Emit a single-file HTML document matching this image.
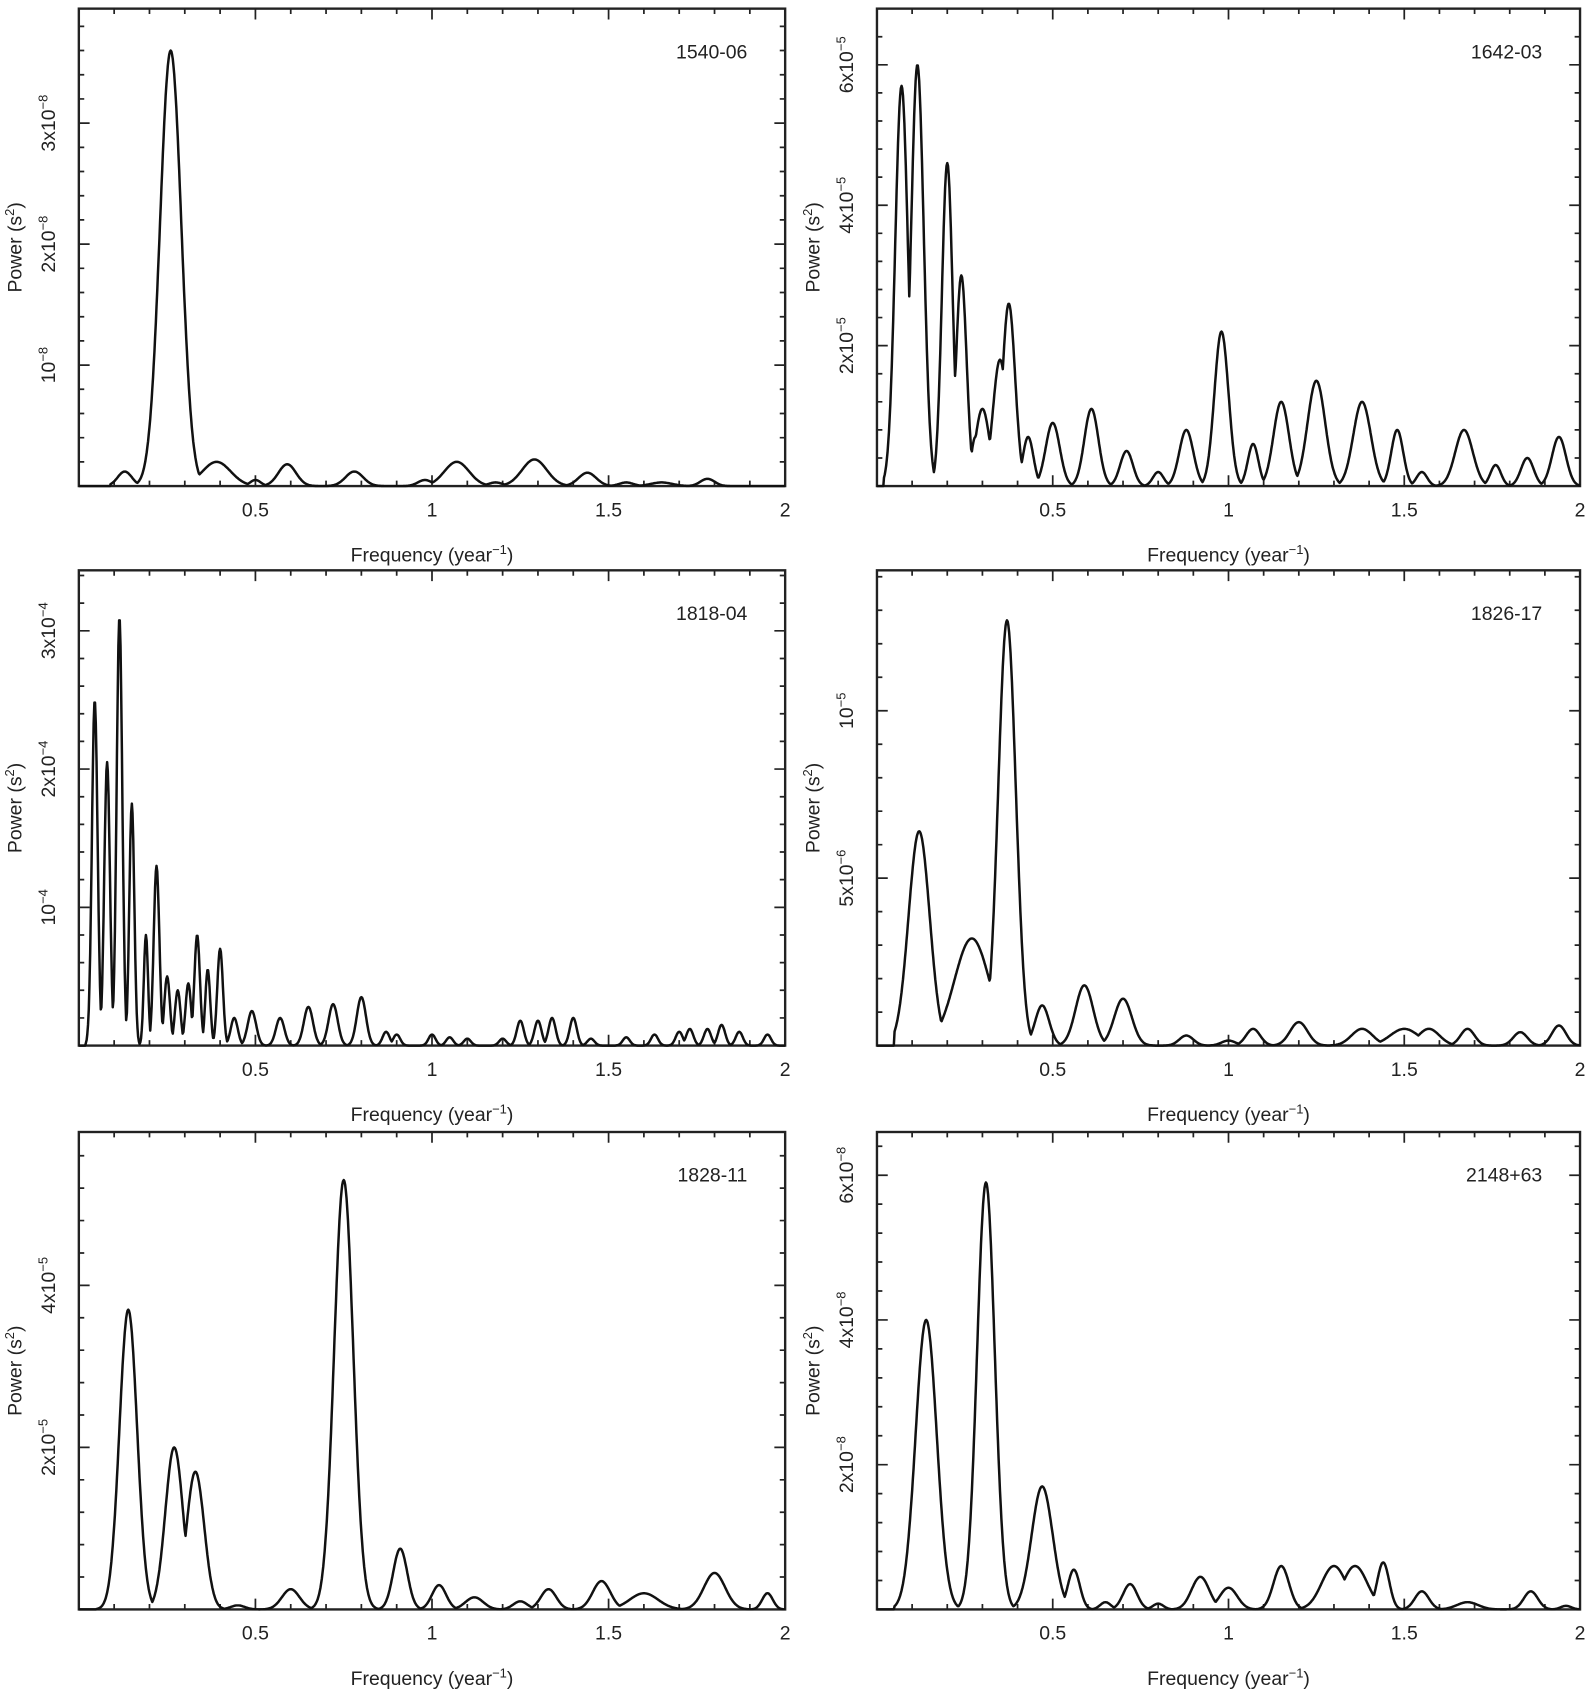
<!DOCTYPE html>
<html><head><meta charset="utf-8"><style>
html,body{margin:0;padding:0;background:#fff}
svg{display:block}
text{font-family:"Liberation Sans",sans-serif;fill:#222}
</style></head><body>
<svg id="s" width="1593" height="1698" viewBox="0 0 1475 1572" preserveAspectRatio="none" xmlns="http://www.w3.org/2000/svg"></svg>
<script>
var S=document.getElementById('s');var NS='http://www.w3.org/2000/svg';
function el(t,a,txt){var e=document.createElementNS(NS,t);for(var k in a)e.setAttribute(k,a[k]);if(txt!==undefined)e.innerHTML=txt;S.appendChild(e);return e;}
var P=[
{x0:73,x1:727,y0:8,y1:450,name:'1540-06',unit:112,yt:[[1,'10<tspan dy="-7" font-size="12">−8</tspan>'],[2,'2x10<tspan dy="-7" font-size="12">−8</tspan>'],[3,'3x10<tspan dy="-7" font-size="12">−8</tspan>']],start:0.09,
pk:[[0.13,0.12,0.02],[0.26,3.6,0.03],[0.39,0.2,0.04],[0.5,0.05,0.015],[0.59,0.18,0.025],[0.78,0.12,0.025],[0.98,0.05,0.02],[1.07,0.2,0.035],[1.18,0.03,0.02],[1.29,0.22,0.035],[1.44,0.11,0.025],[1.55,0.03,0.02],[1.65,0.03,0.03],[1.78,0.06,0.02]]},
{x0:812,x1:1463,y0:8,y1:450,name:'1642-03',unit:65,yt:[[2,'2x10<tspan dy="-7" font-size="12">−5</tspan>'],[4,'4x10<tspan dy="-7" font-size="12">−5</tspan>'],[6,'6x10<tspan dy="-7" font-size="12">−5</tspan>']],start:0.02,
pk:[[0.07,5.7,0.018],[0.115,6.0,0.018],[0.2,4.6,0.015],[0.24,3.0,0.015],[0.28,0.7,0.012],[0.3,1.1,0.02],[0.35,1.8,0.02],[0.375,2.6,0.018],[0.43,0.7,0.015],[0.5,0.9,0.02],[0.61,1.1,0.02],[0.71,0.5,0.018],[0.8,0.2,0.015],[0.88,0.8,0.02],[0.98,2.2,0.02],[1.07,0.6,0.015],[1.15,1.2,0.022],[1.25,1.5,0.025],[1.38,1.2,0.025],[1.48,0.8,0.017],[1.55,0.2,0.015],[1.67,0.8,0.025],[1.76,0.3,0.015],[1.85,0.4,0.018],[1.94,0.7,0.02]]},
{x0:73,x1:727,y0:528,y1:968,name:'1818-04',unit:128,yt:[[1,'10<tspan dy="-7" font-size="12">−4</tspan>'],[2,'2x10<tspan dy="-7" font-size="12">−4</tspan>'],[3,'3x10<tspan dy="-7" font-size="12">−4</tspan>']],start:0.02,
pk:[[0.045,2.5,0.008],[0.08,2.05,0.008],[0.115,3.1,0.008],[0.15,1.75,0.007],[0.19,0.8,0.006],[0.22,1.3,0.008],[0.25,0.5,0.008],[0.28,0.4,0.008],[0.31,0.45,0.008],[0.335,0.8,0.008],[0.365,0.55,0.007],[0.4,0.7,0.008],[0.44,0.2,0.01],[0.49,0.25,0.012],[0.57,0.2,0.012],[0.65,0.28,0.013],[0.72,0.3,0.013],[0.8,0.35,0.013],[0.87,0.1,0.01],[0.9,0.08,0.01],[1.0,0.08,0.01],[1.05,0.06,0.01],[1.1,0.05,0.01],[1.2,0.05,0.01],[1.25,0.18,0.01],[1.3,0.18,0.01],[1.34,0.2,0.01],[1.4,0.2,0.01],[1.45,0.05,0.01],[1.55,0.06,0.01],[1.63,0.08,0.01],[1.7,0.1,0.01],[1.73,0.12,0.01],[1.78,0.12,0.01],[1.82,0.15,0.01],[1.87,0.1,0.01],[1.95,0.08,0.01]]},
{x0:812,x1:1463,y0:528,y1:968,name:'1826-17',unit:31,yt:[[5,'5x10<tspan dy="-7" font-size="12">−6</tspan>'],[10,'10<tspan dy="-7" font-size="12">−5</tspan>']],start:0.05,
pk:[[0.12,6.4,0.03],[0.27,3.2,0.05],[0.37,12.7,0.025],[0.47,1.2,0.02],[0.59,1.8,0.025],[0.7,1.4,0.025],[0.88,0.3,0.02],[1.0,0.15,0.02],[1.07,0.5,0.02],[1.2,0.7,0.025],[1.38,0.5,0.03],[1.5,0.5,0.04],[1.57,0.5,0.03],[1.68,0.5,0.02],[1.83,0.4,0.02],[1.94,0.6,0.02]]},
{x0:73,x1:727,y0:1048,y1:1490,name:'1828-11',unit:75,yt:[[2,'2x10<tspan dy="-7" font-size="12">−5</tspan>'],[4,'4x10<tspan dy="-7" font-size="12">−5</tspan>']],start:0.05,
pk:[[0.14,3.7,0.025],[0.27,2.0,0.025],[0.33,1.7,0.025],[0.45,0.05,0.02],[0.6,0.25,0.025],[0.75,5.3,0.027],[0.91,0.75,0.02],[1.02,0.3,0.02],[1.12,0.15,0.025],[1.25,0.1,0.02],[1.33,0.25,0.022],[1.48,0.35,0.025],[1.6,0.2,0.04],[1.8,0.45,0.03],[1.95,0.2,0.015]]},
{x0:812,x1:1463,y0:1048,y1:1490,name:'2148+63',unit:67,yt:[[2,'2x10<tspan dy="-7" font-size="12">−8</tspan>'],[4,'4x10<tspan dy="-7" font-size="12">−8</tspan>'],[6,'6x10<tspan dy="-7" font-size="12">−8</tspan>']],start:0.05,
pk:[[0.14,4.0,0.03],[0.31,5.9,0.025],[0.47,1.7,0.03],[0.56,0.55,0.017],[0.65,0.1,0.015],[0.72,0.35,0.02],[0.8,0.08,0.015],[0.92,0.45,0.025],[1.0,0.3,0.025],[1.15,0.6,0.022],[1.3,0.6,0.035],[1.36,0.6,0.035],[1.44,0.65,0.017],[1.55,0.25,0.02],[1.68,0.1,0.03],[1.86,0.25,0.02],[1.96,0.05,0.015]]}
];
P.forEach(function(p){
 var W=p.x1-p.x0,sx=W/2;
 function X(f){return p.x0+f*sx;}
 el('rect',{x:p.x0,y:p.y0,width:W,height:p.y1-p.y0,fill:'none',stroke:'#222','stroke-width':2.2});
 var t='';
 for(var i=1;i<20;i++){var L=(i%5==0)?10:5;var x=X(i/10);t+='M'+x+' '+p.y1+'v-'+L+'M'+x+' '+p.y0+'v'+L;}
 var step=p.unit*(p.yt.length>1?(p.yt[1][0]-p.yt[0][0]):p.yt[0][0])/5;
 var k=0;for(var y=p.y1;y>p.y0;y-=step){if(k>0){var L=(k%5==0)?10:5;t+='M'+p.x0+' '+y+'h'+L+'M'+p.x1+' '+y+'h-'+L;}k++;}
 el('path',{d:t,stroke:'#222','stroke-width':1.6,fill:'none'});
 [[0.5,'0.5'],[1,'1'],[1.5,'1.5'],[2,'2']].forEach(function(a){el('text',{x:X(a[0]),y:p.y1+28,'font-size':18,'text-anchor':'middle'},a[1]);});
 el('text',{x:(p.x0+p.x1)/2,y:p.y1+70,'font-size':18,'text-anchor':'middle'},'Frequency (year<tspan dy="-7" font-size="12">−1</tspan><tspan dy="7">)</tspan>');
 p.yt.forEach(function(a){var y=p.y1-a[0]*p.unit;el('text',{transform:'translate('+(p.x0-22)+' '+y+') rotate(-90)','font-size':18,'text-anchor':'middle'},a[1]);});
 el('text',{transform:'translate('+(p.x0-53)+' '+((p.y0+p.y1)/2)+') rotate(-90)','font-size':18,'text-anchor':'middle'},'Power (s<tspan dy="-7" font-size="12">2</tspan><tspan dy="7">)</tspan>');
 el('text',{x:p.x1-35,y:p.y0+46,'font-size':18,'text-anchor':'end'},p.name);
 var d='';
 for(var f=0;f<=2.0001;f+=0.002){var v=0;if(f>=p.start){p.pk.forEach(function(q){var g=q[1]*Math.exp(-Math.pow(f-q[0],2)/(2*q[2]*q[2]));if(g>v)v=g;});}
  var y=p.y1-v*p.unit;d+=(d?'L':'M')+X(f).toFixed(1)+' '+y.toFixed(1);}
 el('path',{d:d,stroke:'#111','stroke-width':2.3,fill:'none','stroke-linejoin':'round'});
});
</script>
</body></html>
